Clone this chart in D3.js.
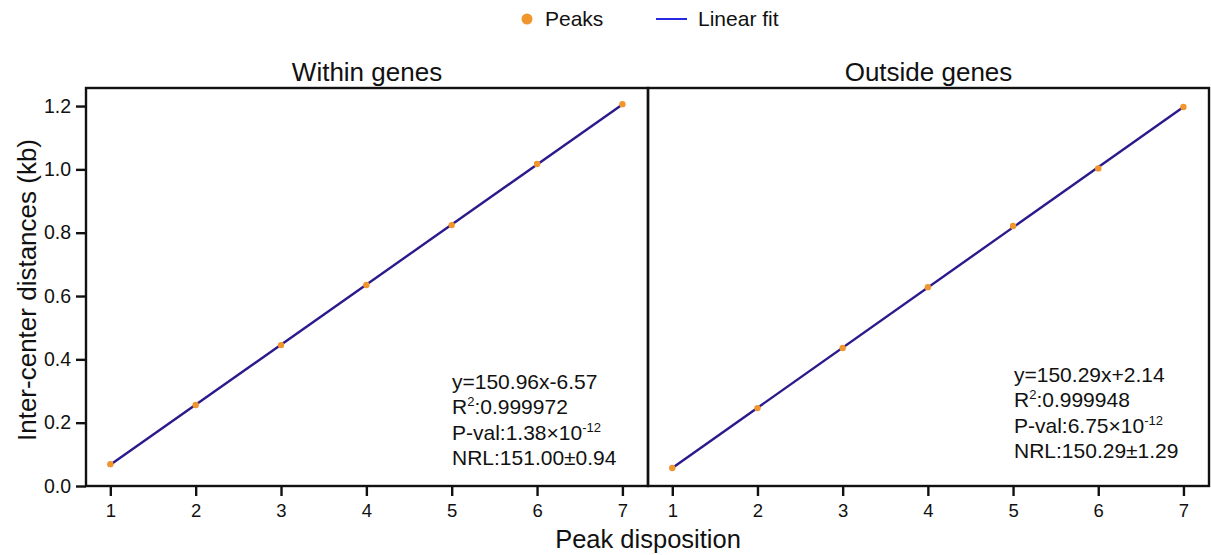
<!DOCTYPE html>
<html>
<head>
<meta charset="utf-8">
<script src="https://cdn.jsdelivr.net/npm/d3@7"></script>
<style>
  body { margin: 0; background: #fff; }
  text { font-family: "Liberation Sans", Arial, sans-serif; fill: #111; }
</style>
</head>
<body>
<div id="chart"></div>
<script>
// --- data (kb) ---
const peakPositions = [1, 2, 3, 4, 5, 6, 7];
const withinGenes = [0.069, 0.256, 0.445, 0.635, 0.824, 1.017, 1.206];
const outsideGenes = [0.057, 0.246, 0.436, 0.628, 0.821, 1.003, 1.197];
const panelTitles = ["Within genes", "Outside genes"];
// "|...|" marks a superscript
const statsWithin = ["y=150.96x-6.57", "R|2|:0.999972", "P-val:1.38×10|-12|", "NRL:151.00±0.94"];
const statsOutside = ["y=150.29x+2.14", "R|2|:0.999948", "P-val:6.75×10|-12|", "NRL:150.29±1.29"];
const yTicks = [0, 0.2, 0.4, 0.6, 0.8, 1.0, 1.2];

const W = 1211, H = 555;
const svg = d3.select("#chart").append("svg")
    .attr("width", W).attr("height", H);

const plotTop = 88, plotBottom = 486;
const panels = [
  { x0: 86, x1: 648, values: withinGenes, title: panelTitles[0], stats: statsWithin, statsX: 452, statsY: 389 },
  { x0: 648, x1: 1209, values: outsideGenes, title: panelTitles[1], stats: statsOutside, statsX: 1014, statsY: 382 }
];

const y = d3.scaleLinear().domain([0, 1.257]).range([plotBottom, plotTop]);

const dotColor = "#f0962d";
const lineColor = "#2b1a8c";
const fontFam = "Liberation Sans, Arial, sans-serif";

panels.forEach((p, i) => {
  const x = d3.scaleLinear().domain([0.715, 7.3]).range([p.x0, p.x1]);
  const g = svg.append("g");

  // least squares fit through the peaks
  const mx = d3.mean(peakPositions), my = d3.mean(p.values);
  const slope = d3.sum(peakPositions, (d, k) => (d - mx) * (p.values[k] - my)) /
                d3.sum(peakPositions, d => (d - mx) * (d - mx));
  const icpt = my - slope * mx;

  g.append("line")
    .attr("x1", x(1)).attr("y1", y(icpt + slope * 1))
    .attr("x2", x(7)).attr("y2", y(icpt + slope * 7))
    .attr("stroke", lineColor).attr("stroke-width", 2.4);

  g.selectAll("circle").data(p.values).enter().append("circle")
    .attr("cx", (d, k) => x(peakPositions[k]))
    .attr("cy", d => y(d))
    .attr("r", 3.2)
    .attr("fill", dotColor);

  // x axis
  const xAxis = g.append("g").attr("transform", `translate(0,${plotBottom})`)
    .call(d3.axisBottom(x).tickValues(peakPositions).tickSize(10).tickPadding(8).tickFormat(d3.format("d")));
  xAxis.select(".domain").remove();
  xAxis.selectAll("line").attr("stroke", "#111").attr("stroke-width", 2.4);
  xAxis.selectAll("text").attr("font-size", 18.5).style("font-family", fontFam).attr("fill", "#111");

  if (i === 0) {
    const yAxis = g.append("g").attr("transform", `translate(${p.x0},0)`)
      .call(d3.axisLeft(y).tickValues(yTicks).tickSize(10).tickPadding(5).tickFormat(d3.format(".1f")));
    yAxis.select(".domain").remove();
    yAxis.selectAll("line").attr("stroke", "#111").attr("stroke-width", 2.4);
    yAxis.selectAll("text").attr("font-size", 19.5).style("font-family", fontFam).attr("fill", "#111");
  }

  // frame
  g.append("rect")
    .attr("x", p.x0).attr("y", plotTop)
    .attr("width", p.x1 - p.x0).attr("height", plotBottom - plotTop)
    .attr("fill", "none").attr("stroke", "#111").attr("stroke-width", 2.4);

  g.append("text")
    .attr("x", (p.x0 + p.x1) / 2).attr("y", 81)
    .attr("text-anchor", "middle").attr("font-size", 26)
    .text(p.title);

  // stats annotation
  p.stats.forEach((s, k) => {
    const t = g.append("text")
      .attr("x", p.statsX).attr("y", p.statsY + k * 25.3)
      .attr("font-size", 21);
    let shift = 0;
    s.split("|").forEach((part, j) => {
      if (!part) return;
      const sup = j % 2 === 1;
      const ts = t.append("tspan").text(part);
      if (sup) {
        ts.attr("font-size", 13).attr("dy", -8);
        shift = 8;
      } else if (shift) {
        ts.attr("dy", shift);
        shift = 0;
      }
    });
  });
});

// axis titles
svg.append("text")
  .attr("transform", "translate(36,290) rotate(-90)")
  .attr("text-anchor", "middle").attr("font-size", 26)
  .text("Inter-center distances (kb)");

svg.append("text")
  .attr("x", 648).attr("y", 548)
  .attr("text-anchor", "middle").attr("font-size", 25.5)
  .text("Peak disposition");

// legend
const legend = svg.append("g");
legend.append("circle").attr("cx", 527).attr("cy", 19).attr("r", 5.5).attr("fill", dotColor);
legend.append("text").attr("x", 545).attr("y", 26).attr("font-size", 21).text("Peaks");
legend.append("line").attr("x1", 656).attr("x2", 687).attr("y1", 19).attr("y2", 19)
  .attr("stroke", "#1010e0").attr("stroke-width", 1.8);
legend.append("text").attr("x", 698).attr("y", 26).attr("font-size", 21).text("Linear fit");
</script>
</body>
</html>
